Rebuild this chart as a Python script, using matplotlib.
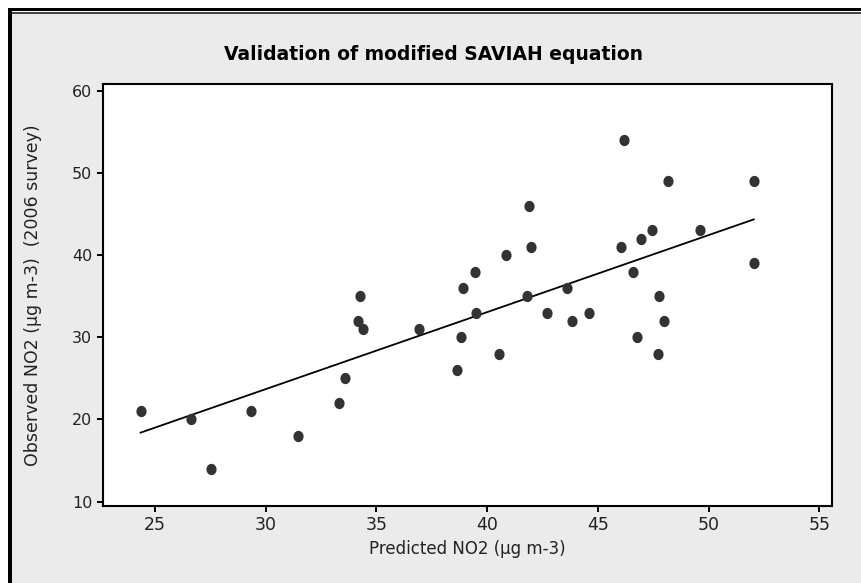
import numpy as np
import matplotlib
matplotlib.use("Agg")
import matplotlib.pyplot as plt
from matplotlib.patches import Rectangle
from matplotlib.path import Path

# ---- data ----
predicted = [24.35, 26.63, 27.54, 29.34, 31.48, 33.31, 33.59, 34.17, 34.26, 34.40,
             36.93, 38.65, 38.83, 38.92, 39.46, 39.51, 40.54, 40.87, 41.81, 41.90,
             42.00, 42.71, 43.62, 43.81, 44.61, 46.06, 46.16, 46.57, 46.79, 46.96,
             47.43, 47.70, 47.77, 47.97, 48.15, 49.60, 52.04, 52.04]
observed = [21, 20, 14, 21, 18, 22, 25, 32, 35, 31,
            31, 26, 30, 36, 38, 33, 28, 40, 35, 46,
            41, 33, 36, 32, 33, 41, 54, 38, 30, 42,
            43, 28, 35, 32, 49, 43, 49, 39]
# fitted line as drawn in the chart (slope, intercept)
fit_slope = 0.937
fit_intercept = -4.42
x_ticks = [25, 30, 35, 40, 45, 50, 55]
y_ticks = [10, 20, 30, 40, 50, 60]
title = "Validation of modified SAVIAH equation"
x_label = "Predicted NO2 (µg m-3)"
y_label = "Observed NO2 (µg m-3)  (2006 survey)"

W, H = 862, 583
fig = plt.figure(figsize=(W / 100, H / 100), dpi=100, facecolor="white")

# gray panel and border
fig.add_artist(Rectangle((12 / W, 0), 1, (H - 12) / H, transform=fig.transFigure,
                         facecolor="#ebebeb", edgecolor="none", zorder=0))
fig.add_artist(Rectangle((8 / W, 0), 4 / W, (H - 8) / H, transform=fig.transFigure,
                         facecolor="black", edgecolor="none", zorder=1))
fig.add_artist(Rectangle((8 / W, (H - 11) / H), 1, 3 / H, transform=fig.transFigure,
                         facecolor="black", edgecolor="none", zorder=1))
fig.add_artist(Rectangle((12 / W, (H - 14) / H), 1, 1.6 / H, transform=fig.transFigure,
                         facecolor="#444444", edgecolor="none", zorder=1))

left, right, top, bottom = 102.7, 831.7, 84.3, 506.0
ax = fig.add_axes([left / W, (H - bottom) / H, (right - left) / W, (bottom - top) / H])
ax.set_facecolor("white")

# ellipse marker (slightly taller than wide)
t = np.linspace(0, 2 * np.pi, 40)
ell = Path(np.column_stack([np.cos(t) * 0.9, np.sin(t)]), closed=True)

ax.scatter(predicted, observed, marker=ell, s=66, color="#333333", linewidths=0, zorder=3)

xl = np.array([min(predicted), max(predicted)])
ax.plot(xl, fit_slope * xl + fit_intercept, color="black", lw=1.3, zorder=2)

ax.set_xlim(22.64, 55.56)
ax.set_ylim(9.47, 60.78)
ax.set_xticks(x_ticks)
ax.set_yticks(y_ticks)
for s in ax.spines.values():
    s.set_linewidth(1.5)
    s.set_color("black")
ax.tick_params(direction="out", length=4, width=1.4, color="black")

for lab in ax.get_xticklabels():
    lab.set_fontsize(12.5)
    lab.set_color("#222222")
for lab in ax.get_yticklabels():
    lab.set_fontsize(11.5)
    lab.set_color("#222222")

ax.set_xlabel(x_label, fontsize=12, color="#222222", labelpad=4)
ax.set_ylabel(y_label, fontsize=12.5, color="#222222", labelpad=10)
ax.yaxis.set_label_coords((42 - left) / (right - left), 0.5 + (295 - 281) / (bottom - top) * 0)
fig.text(434 / W, (H - 55) / H, title, ha="center", va="center",
         fontsize=13.5, fontweight="bold")

fig.savefig("out.png", dpi=100, facecolor=fig.get_facecolor())
